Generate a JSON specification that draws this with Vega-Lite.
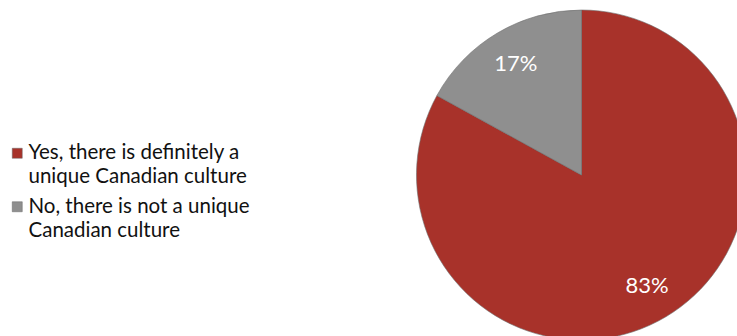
{
  "$schema": "https://vega.github.io/schema/vega-lite/v6.json",
  "width": 1163,
  "height": 350,
  "autosize": "none",
  "padding": 0,
  "background": "white",
  "config": {"view": {"stroke": null}, "font": "Lato", "style": {"guide-label": {"lineHeight": 24}}},
  "data": {"values": [
    {"answer": "Yes, there is definitely a unique Canadian culture", "share": 0.83, "order": 1},
    {"answer": "No, there is not a unique Canadian culture", "share": 0.17, "order": 2}
  ]},
  "encoding": {
    "theta": {"field": "share", "type": "quantitative", "stack": true},
    "order": {"field": "order", "type": "quantitative"}
  },
  "layer": [
    {
      "mark": {"type": "arc", "outerRadius": 165, "stroke": "#6e6e6e", "strokeWidth": 0.6},
      "encoding": {
        "color": {
          "field": "answer",
          "type": "nominal",
          "scale": {
            "domain": ["Yes, there is definitely a unique Canadian culture", "No, there is not a unique Canadian culture"],
            "range": ["#A8322A", "#8F8F8F"]
          },
          "legend": {
            "title": null,
            "orient": "none",
            "legendX": 7,
            "legendY": 143,
            "symbolType": "square",
            "symbolSize": 100,
            "symbolStrokeWidth": 0.5,
            "symbolStrokeColor": "#666",
            "labelFontSize": 20.5,
            "labelColor": "#111",
            "labelLimit": 400,
            "labelOffset": 1,
            "rowPadding": 8.5,
            "labelExpr": "datum.label == 'Yes, there is definitely a unique Canadian culture' ? ['Yes, there is definitely a', 'unique Canadian culture'] : ['No, there is not a unique', 'Canadian culture']"
          }
        }
      }
    },
    {
      "mark": {"type": "text", "radius": 129, "fontSize": 22, "color": "white"},
      "encoding": {
        "text": {"field": "share", "type": "quantitative", "format": ".0%"}
      }
    }
  ]
}
